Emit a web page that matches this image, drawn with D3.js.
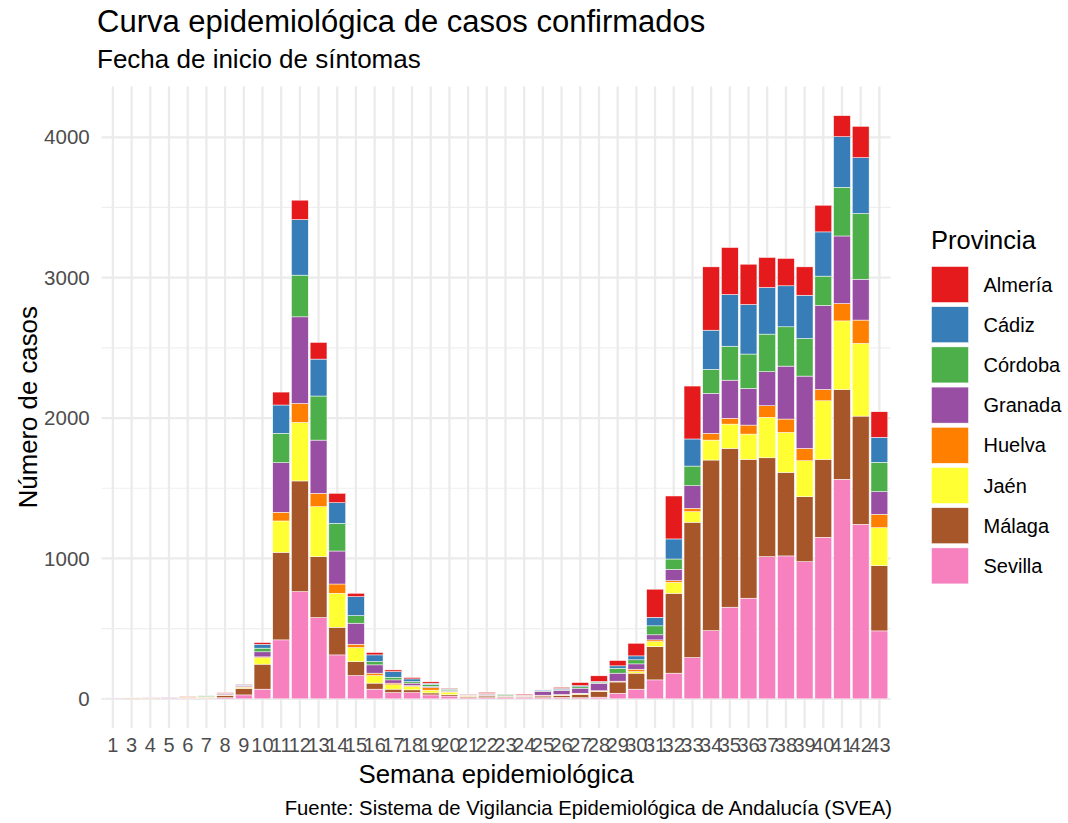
<!DOCTYPE html>
<html>
<head>
<meta charset="utf-8">
<script src="https://cdn.jsdelivr.net/npm/d3@7"></script>
<style>
  html, body { margin: 0; padding: 0; background: #ffffff; }
  svg { display: block; font-family: "Liberation Sans", Arial, sans-serif; }
</style>
</head>
<body>
<svg id="chart" width="1068" height="823"></svg>
<script>
// ---- Data (weeks 1, 3..43) ----
const weeks = ["1","3","4","5","6","7","8","9","10","11","12","13","14","15","16","17","18","19","20","21","22","23","24","25","26","27","28","29","30","31","32","33","34","35","36","37","38","39","40","41","42","43"];
const provinces = ["Almería","Cádiz","Córdoba","Granada","Huelva","Jaén","Málaga","Sevilla"];
const colors = ["#E41A1C","#377EB8","#4DAF4A","#984EA3","#FF7F00","#FFFF33","#A65628","#F781BF"];

const sevilla = [3,2,2,3,5,5,8,28,69,420,764,579,313,166,69,45,45,28,20,8,8,8,10,8,10,8,12,40,69,135,183,294,486,653,717,1013,1018,977,1151,1564,1243,484];
const malaga  = [0,3,3,1,4,5,16,47,178,624,788,434,197,100,43,24,19,14,10,10,12,6,6,12,15,24,40,80,114,237,569,964,1215,1131,989,704,595,463,555,640,771,465];
const jaen    = [0,0,0,0,1,2,2,7,45,223,417,356,242,99,54,31,24,20,18,6,3,3,2,3,3,4,3,3,11,36,78,75,142,173,180,288,285,256,417,488,518,270];
const huelva  = [0,1,1,0,6,2,2,5,7,62,135,95,66,24,17,12,7,18,5,2,2,2,1,3,3,4,3,3,17,12,12,24,48,41,64,83,95,88,81,124,166,96];
const granada = [2,0,1,4,2,2,7,6,36,353,617,379,235,150,59,23,17,8,5,2,8,3,3,28,30,36,53,57,38,36,81,161,285,272,261,242,377,515,598,481,291,161];
const cordoba = [0,0,0,0,0,5,2,3,26,209,297,314,197,54,24,19,11,15,10,2,3,8,2,5,5,10,8,35,29,64,73,140,171,242,245,268,280,268,209,347,468,209];
const cadiz   = [0,0,0,0,1,1,3,6,28,202,396,263,147,135,47,40,19,8,5,2,2,3,2,5,8,8,5,17,28,61,143,193,279,368,353,332,292,308,315,360,398,178];
const almeria = [0,0,0,0,1,0,4,2,12,92,138,119,67,24,17,12,10,10,3,2,8,1,7,3,8,22,40,38,90,200,306,377,451,335,287,214,195,202,190,150,223,182];

const yTicks = [0,1000,2000,3000,4000];
const yMinorTicks = [500,1500,2500,3500];

const titleText = "Curva epidemiológica de casos confirmados";
const subtitleText = "Fecha de inicio de síntomas";
const xTitleText = "Semana epidemiológica";
const yTitleText = "Número de casos";
const legendTitleText = "Provincia";
const captionText = "Fuente: Sistema de Vigilancia Epidemiológica de Andalucía (SVEA)";

// ---- Build table ----
const seriesByProv = {"Almería":almeria,"Cádiz":cadiz,"Córdoba":cordoba,"Granada":granada,"Huelva":huelva,"Jaén":jaen,"Málaga":malaga,"Sevilla":sevilla};
const rows = weeks.map((w,i) => {
  const r = {week:w};
  provinces.forEach(p => r[p] = seriesByProv[p][i]);
  return r;
});
// stack order: Sevilla at bottom ... Almería on top
const stackKeys = provinces.slice().reverse();
const stacked = d3.stack().keys(stackKeys)(rows);
const totals = rows.map(r => d3.sum(provinces, p => r[p]));
const yMax = d3.max(totals);

// ---- Layout ----
const panel = {left: 101.7, right: 890.6, top: 86.5, bottom: 728};
const svg = d3.select("#chart");
const color = d3.scaleOrdinal().domain(provinces).range(colors);

const x = d3.scaleBand().domain(weeks).range([panel.left, panel.right]).paddingInner(0.1).paddingOuter(0.15);
const y = d3.scaleLinear().domain([-0.05*yMax, 1.05*yMax]).range([panel.bottom, panel.top]);

// grid
const grid = svg.append("g");
grid.selectAll("line.minor").data(yMinorTicks).join("line")
  .attr("x1", panel.left).attr("x2", panel.right)
  .attr("y1", d => y(d)).attr("y2", d => y(d))
  .attr("stroke", "#EFEFEF").attr("stroke-width", 1.2);
grid.selectAll("line.major").data(yTicks).join("line")
  .attr("x1", panel.left).attr("x2", panel.right)
  .attr("y1", d => y(d)).attr("y2", d => y(d))
  .attr("stroke", "#EBEBEB").attr("stroke-width", 2.3);
grid.selectAll("line.vx").data(weeks).join("line")
  .attr("x1", d => x(d) + x.bandwidth()/2).attr("x2", d => x(d) + x.bandwidth()/2)
  .attr("y1", panel.top).attr("y2", panel.bottom)
  .attr("stroke", "#EBEBEB").attr("stroke-width", 2.3);

// bars
svg.append("g").selectAll("g").data(stacked).join("g")
  .attr("fill", d => color(d.key))
  .selectAll("rect").data(d => d).join("rect")
  .attr("x", d => x(d.data.week))
  .attr("width", x.bandwidth())
  .attr("y", d => y(d[1]))
  .attr("height", d => Math.max(0, y(d[0]) - y(d[1])))
  .attr("stroke", "#ffffff").attr("stroke-width", 0.5);

// axes (text only, like theme_minimal)
const xAxis = svg.append("g").attr("transform", `translate(0,${panel.bottom})`)
  .call(d3.axisBottom(x).tickSize(0).tickPadding(0));
xAxis.select(".domain").remove();
xAxis.selectAll("text").attr("y", 24).attr("dy", 0)
  .attr("font-size", 20).attr("fill", "#4D4D4D").attr("font-family", "Liberation Sans, Arial, sans-serif");

const yAxis = svg.append("g").attr("transform", `translate(${panel.left},0)`)
  .call(d3.axisLeft(y).tickValues(yTicks).tickSize(0).tickPadding(12).tickFormat(d3.format("d")));
yAxis.select(".domain").remove();
yAxis.selectAll("text").attr("font-size", 20.5).attr("fill", "#4D4D4D").attr("font-family", "Liberation Sans, Arial, sans-serif");

// titles
svg.append("text").attr("x", 97).attr("y", 32).attr("font-size", 31).attr("fill", "#000").text(titleText);
svg.append("text").attr("x", 97).attr("y", 68).attr("font-size", 26).attr("fill", "#000").text(subtitleText);
svg.append("text").attr("x", (panel.left+panel.right)/2).attr("y", 783).attr("text-anchor", "middle")
  .attr("font-size", 25.8).attr("fill", "#000").text(xTitleText);
svg.append("text").attr("transform", `translate(37,${(panel.top+panel.bottom)/2}) rotate(-90)`)
  .attr("text-anchor", "middle").attr("font-size", 25.8).attr("fill", "#000").text(yTitleText);
svg.append("text").attr("x", 892).attr("y", 815).attr("text-anchor", "end")
  .attr("font-size", 20.3).attr("fill", "#000").text(captionText);

// legend
const lg = svg.append("g");
lg.append("text").attr("x", 931).attr("y", 249).attr("font-size", 25.5).attr("fill", "#000").text(legendTitleText);
const items = lg.selectAll("g.item").data(provinces).join("g")
  .attr("transform", (d,i) => `translate(931.5,${266.5 + i*40.2})`);
items.append("rect").attr("width", 37).attr("height", 36).attr("fill", d => color(d))
  .attr("stroke", "#ffffff").attr("stroke-width", 0.5);
items.append("text").attr("x", 52).attr("y", 18).attr("dy", "0.35em")
  .attr("font-size", 20).attr("fill", "#000").text(d => d);
</script>
</body>
</html>
